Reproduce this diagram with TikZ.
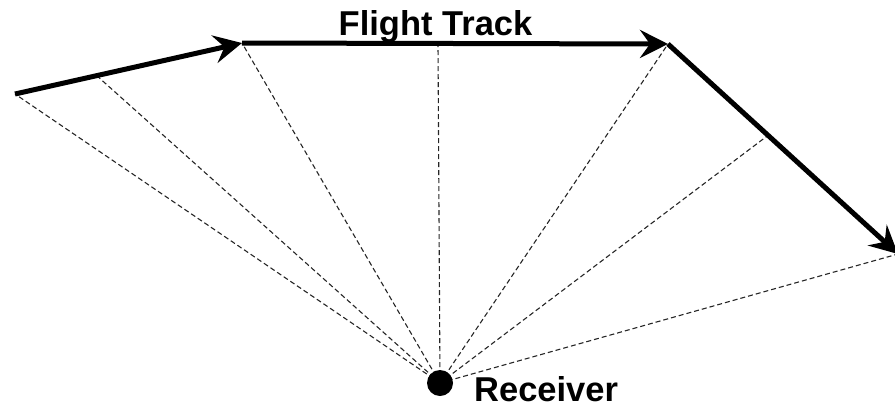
\documentclass[tikz,border=0pt]{standalone}
\usepackage{fontspec}
\setmainfont{Liberation Sans}
\usetikzlibrary{arrows.meta,calc,backgrounds}
\begin{document}
\begin{tikzpicture}[x=1pt,y=-1pt,
  track/.style={line width=5pt,-{Stealth[length=28pt,width=28pt,inset=10pt]}},
  sightline/.style={line width=1.1pt,dash pattern=on 5pt off 3pt,draw=black!85},
  label/.style={font=\fontsize{34.5}{38}\selectfont\bfseries,inner sep=0pt}]
  \useasboundingbox (0,0) rectangle (895,408);
  \clip (0,0) rectangle (895,408);

  % points along the flight path
  \coordinate (p0) at (15,94);
  \coordinate (p2) at (242,43);
  \coordinate (p3) at (438,44);
  \coordinate (p4) at (668,44);
  \coordinate (p6) at (898,254);
  \coordinate (p1) at ($(p0)!0.36!(p2)$);
  \coordinate (p5) at ($(p4)!0.435!(p6)$);

  % receiver on the ground
  \node[circle,fill=black,minimum size=26pt,inner sep=0pt] (rx) at (440,383) {};

  % lines of sight from the receiver to the track, behind the receiver
  \begin{pgfonlayer}{background}
    \foreach \p in {p0,p1,p2,p3,p4,p5,p6}
      \draw[sightline] (rx.center) -- (\p);
  \end{pgfonlayer}

  % flight track legs
  \draw[track] (p0) -- (p2);
  \draw[track] (p2) -- (p4);
  \draw[track] (p4) -- (p6);

  \node[label,anchor=base] (title) at (435.5,35) {Flight Track};
  \node[label,anchor=base west] (rxlabel) at (474,401) {Receiver};
\end{tikzpicture}
\end{document}
